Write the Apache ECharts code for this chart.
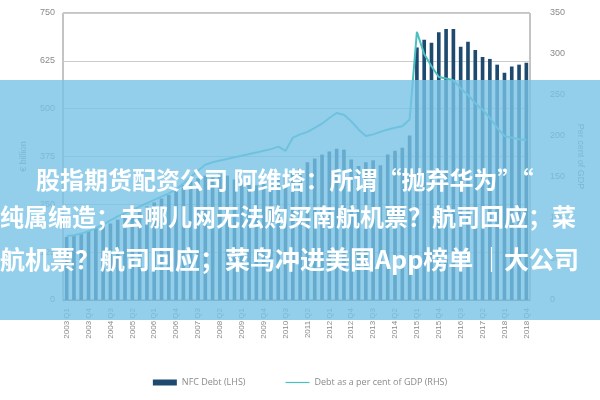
<!DOCTYPE html>
<html><head><meta charset="utf-8">
<script src="https://cdn.jsdelivr.net/npm/echarts@6/dist/echarts.min.js"></script>
<style>html,body{margin:0;padding:0;background:#fff}#c{width:600px;height:400px}</style>
</head><body><div id="c"></div>
<script>
const categories=[];for(let y=2003;y<=2018;y++)for(let q=1;q<=4;q++)categories.push(y+' Q'+q);
const nfcDebt=[165,170,175,180,190,195,200,210,215,225,235,245,255,265,275,290,300,310,318,325,320,330,325,315,310,305,300,305,310,315,320,330,345,360,370,380,388,395,393,367,350,360,365,352,380,390,398,430,
660,680,672,700,708,708,662,675,653,635,630,615,594,610,615,620];
const debtGdp=[78,79,81,84,88,92,97,102,106,110,114,118,122,126,130,135,142,150,158,165,168,170,172,174,176,178,180,182,184,187,182,198,202,205,210,215,222,228,226,218,208,200,202,205,208,210,212,220,
327,300,285,272,270,268,258,250,240,232,222,210,200,198,196,195];
const leftTicks=[0,125,250,375,500,625,750];
const rightTicks=[0,50,100,150,200,250,300,350];
const bannerLines=['股指期货配资公司 阿维塔：所谓“抛弃华为”“','纯属编造；去哪儿网无法购买南航机票？航司回应；菜','航机票？航司回应；菜鸟冲进美国App榜单 ｜大公司'];
const gray='#8a8a8a';
const ch=echarts.init(document.getElementById('c'));
ch.setOption({
 animation:false,
 grid:{left:63,right:70,top:13,bottom:100,show:true,borderColor:'#888',borderWidth:1},
 legend:{bottom:8,left:'center',itemGap:40,itemWidth:24,itemHeight:6,textStyle:{color:gray,fontSize:9,fontFamily:'Open Sans'},
   data:[{name:'NFC Debt (LHS)',icon:'rect'},{name:'Debt as a per cent of GDP (RHS)',icon:'path://M0 5 H40 V7 H0 Z'}]},
 xAxis:{type:'category',data:categories,axisLine:{lineStyle:{color:'#888'}},axisTick:{show:false},
   axisLabel:{rotate:90,fontSize:8,color:gray,interval:(i)=>i%3===0}},
 yAxis:[
  {type:'value',min:0,max:750,interval:125,name:'€ billion',nameLocation:'middle',nameGap:35,nameTextStyle:{color:gray,fontSize:9},
   axisLabel:{color:gray,fontSize:9},splitLine:{lineStyle:{color:'#ccc'}},axisLine:{show:false}},
  {type:'value',min:0,max:350,interval:50,name:'Per cent of GDP',nameLocation:'middle',nameGap:32,nameRotate:-90,nameTextStyle:{color:gray,fontSize:9},
   axisLabel:{color:gray,fontSize:9,margin:20},splitLine:{show:false},axisLine:{show:false}}
 ],
 series:[
  {name:'NFC Debt (LHS)',type:'bar',data:nfcDebt,barWidth:'50%',itemStyle:{color:'#1f4a70'}},
  {name:'Debt as a per cent of GDP (RHS)',type:'line',yAxisIndex:1,data:debtGdp,symbol:'none',lineStyle:{color:'#4cbfc0',width:2},itemStyle:{color:'#4cbfc0'}}
 ],
 graphic:[
  {type:'rect',shape:{x:0,y:80,width:600,height:240},style:{fill:'rgba(120,195,230,0.8)'},z:100},
  {type:'text',left:36,top:168,style:{text:bannerLines[0],fill:'#fff',font:'bold 24px "Noto Sans CJK SC"'},z:101},
  {type:'text',left:0,top:205,style:{text:bannerLines[1],fill:'#fff',font:'bold 24px "Noto Sans CJK SC"'},z:101},
  {type:'text',left:0,top:247,style:{text:bannerLines[2],fill:'#fff',font:'bold 25px "Noto Sans CJK SC"'},z:101}
 ]
});
</script></body></html>
